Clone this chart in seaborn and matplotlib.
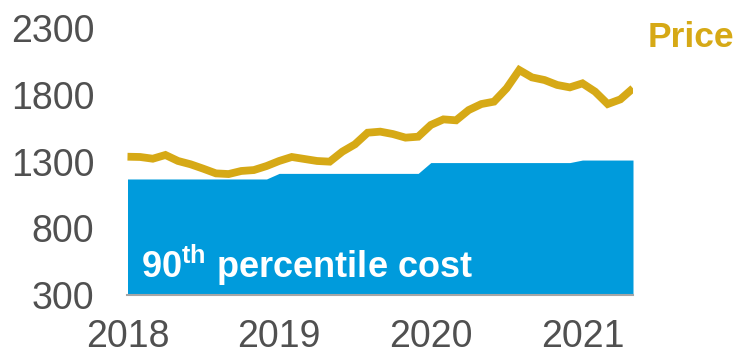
import matplotlib
matplotlib.use("Agg")
import matplotlib.pyplot as plt
import numpy as np
import pandas as pd
import seaborn as sns

# Monthly series, Jan 2018 - May 2021
years = ["2018", "2019", "2020", "2021"]
price = [1337, 1335, 1322, 1350, 1305, 1280, 1247, 1212, 1207, 1230,
         1237, 1267, 1305, 1335, 1320, 1305, 1300, 1375, 1430, 1517,
         1525, 1507, 1480, 1487, 1575, 1617, 1610, 1687, 1732, 1750,
         1850, 1987, 1932, 1912, 1875, 1857, 1887, 1825, 1732, 1767,
         1850]
cost = [1170, 1170, 1170, 1170, 1170, 1170, 1170, 1170, 1170, 1170,
        1170, 1170, 1212, 1212, 1212, 1212, 1212, 1212, 1212, 1212,
        1212, 1212, 1212, 1212, 1293, 1293, 1293, 1293, 1293, 1293,
        1293, 1293, 1293, 1293, 1293, 1293, 1312, 1312, 1312, 1312,
        1312]
y_ticks = [300, 800, 1300, 1800, 2300]

GOLD = "#D6A916"
BLUE = "#009BDC"
GREY = "#505050"

sns.set_theme(style="white")
plt.rcParams["font.family"] = ["Liberation Sans", "DejaVu Sans"]
plt.rcParams["mathtext.fontset"] = "custom"
plt.rcParams["mathtext.rm"] = "Liberation Sans"
plt.rcParams["mathtext.bf"] = "Liberation Sans:bold"

df = pd.DataFrame({"month": np.arange(len(price)), "price": price, "cost": cost})

W, H = 741, 355
fig = plt.figure(figsize=(W / 100, H / 100), dpi=100)
ax = fig.add_axes([127.5 / W, 60 / H, (633 - 127.5) / W, (295 - 28.3) / H])

ax.fill_between(df["month"], y_ticks[0], df["cost"], color=BLUE, linewidth=0, zorder=1)
sns.lineplot(data=df, x="month", y="price", color=GOLD, linewidth=5.6, ax=ax,
             solid_joinstyle="miter", solid_capstyle="butt", zorder=3)

ax.set_xlim(0, len(price) - 1)
ax.set_ylim(y_ticks[0], y_ticks[-1])
ax.set_xticks([12 * k for k in range(len(years))])
ax.set_xticklabels(years)
ax.set_yticks(y_ticks)
ax.set_yticklabels([str(v) for v in y_ticks])
ax.set_xlabel("")
ax.set_ylabel("")

for side in ("top", "left", "right"):
    ax.spines[side].set_visible(False)
ax.spines["bottom"].set_color("#a6a6a6")
ax.spines["bottom"].set_linewidth(1.5)

ax.tick_params(axis="both", length=0, labelsize=27, labelcolor=GREY)
ax.tick_params(axis="x", pad=17)
ax.tick_params(axis="y", pad=24)

fig.text(648 / W, 1 - 46.7 / H, "Price", color=GOLD, fontsize=25.5,
         fontweight="bold", ha="left", va="baseline")
fig.text(141 / W, 1 - 278.3 / H, r"90$^{\mathbf{th}}$ percentile cost", color="white",
         fontsize=26, fontweight="bold", ha="left", va="baseline")

fig.savefig("out.png", dpi=100)
